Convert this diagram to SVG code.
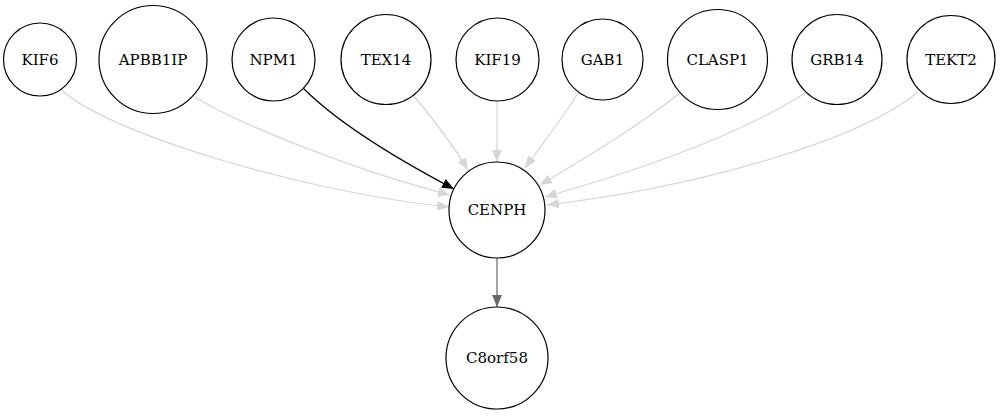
<svg xmlns="http://www.w3.org/2000/svg" width="1001" height="416" viewBox="0 0 1001 416">
<style>
.n circle{fill:#fff;stroke:#000;stroke-width:1.2}
.n text{font-family:"DejaVu Serif",serif;font-size:15px;text-anchor:middle;fill:#000}
.e path{fill:none;stroke-width:1.2}
.lg{stroke:#d6d6d6}
.bk{stroke:#000}
.dg{stroke:#696969}
</style>
<defs>
<marker id="aL" markerUnits="userSpaceOnUse" markerWidth="12" markerHeight="10" refX="11" refY="4.5" orient="auto" viewBox="0 0 11 9"><path d="M0,0L11,4.5L0,9z" fill="#d6d6d6"/></marker>
<marker id="aB" markerUnits="userSpaceOnUse" markerWidth="12" markerHeight="10" refX="11" refY="4.5" orient="auto" viewBox="0 0 11 9"><path d="M0,0L11,4.5L0,9z" fill="#000"/></marker>
<marker id="aD" markerUnits="userSpaceOnUse" markerWidth="12" markerHeight="10" refX="11" refY="4.5" orient="auto" viewBox="0 0 11 9"><path d="M0,0L11,4.5L0,9z" fill="#696969"/></marker>
</defs>
<g id="edges" class="e">
<path class="lg" d="M61,89 C100,130 300,192 449,207" marker-end="url(#aL)"/>
<path class="lg" d="M195,97 C240,125 360,172 450,195" marker-end="url(#aL)"/>
<path class="bk" d="M303,88 C330,115 380,150 454,189" marker-end="url(#aB)"/>
<path class="lg" d="M413,95 C430,115 450,140 468,170" marker-end="url(#aL)"/>
<path class="lg" d="M497,101 L497,162" marker-end="url(#aL)"/>
<path class="lg" d="M578,93 C565,115 545,140 525,168" marker-end="url(#aL)"/>
<path class="lg" d="M680,93 C640,125 590,155 540,185" marker-end="url(#aL)"/>
<path class="lg" d="M805,93 C740,135 640,170 545,197" marker-end="url(#aL)"/>
<path class="lg" d="M918,92 C860,140 700,187 547,205" marker-end="url(#aL)"/>
<path class="dg" d="M497,258 L497,307" marker-end="url(#aD)"/>
</g>
<g id="KIF6" class="n"><circle cx="40" cy="59.5" r="36.5"/><text x="40" y="64.5">KIF6</text></g>
<g id="APBB1IP" class="n"><circle cx="153" cy="59.5" r="54"/><text x="153" y="64.5">APBB1IP</text></g>
<g id="NPM1" class="n"><circle cx="273.5" cy="59.5" r="41.5"/><text x="273.5" y="64.5">NPM1</text></g>
<g id="TEX14" class="n"><circle cx="386" cy="59.5" r="45"/><text x="386" y="64.5">TEX14</text></g>
<g id="KIF19" class="n"><circle cx="497.5" cy="59.5" r="41.5"/><text x="497.5" y="64.5">KIF19</text></g>
<g id="GAB1" class="n"><circle cx="602.5" cy="59.5" r="40.5"/><text x="602.5" y="64.5">GAB1</text></g>
<g id="CLASP1" class="n"><circle cx="717.5" cy="59.5" r="50"/><text x="717.5" y="64.5">CLASP1</text></g>
<g id="GRB14" class="n"><circle cx="837" cy="59.5" r="45"/><text x="837" y="64.5">GRB14</text></g>
<g id="TEKT2" class="n"><circle cx="951" cy="59.5" r="44"/><text x="951" y="64.5">TEKT2</text></g>
<g id="CENPH" class="n"><circle cx="497" cy="210" r="48"/><text x="497" y="215">CENPH</text></g>
<g id="C8orf58" class="n"><circle cx="497" cy="358" r="51"/><text x="497" y="363">C8orf58</text></g>
</svg>
